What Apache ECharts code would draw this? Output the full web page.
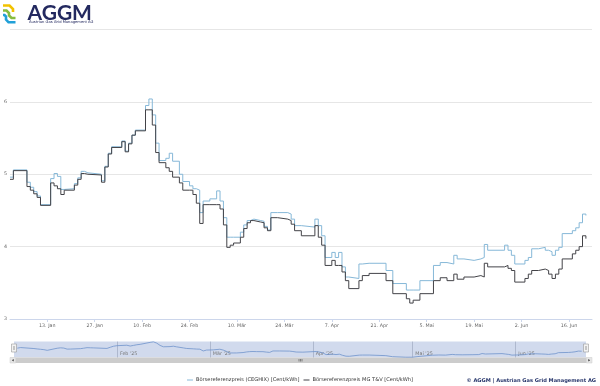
<!DOCTYPE html>
<html><head><meta charset="utf-8">
<script src="https://cdn.jsdelivr.net/npm/echarts@6/dist/echarts.min.js"></script>
<style>html,body{margin:0;padding:0;background:#fff}#c{width:600px;height:386px}</style>
</head><body><div id="c"></div>
<script>
// ---- data ----
const changeDates = ['2025-01-02','2025-01-03','2025-01-07','2025-01-08','2025-01-09','2025-01-10','2025-01-11','2025-01-14','2025-01-15','2025-01-16','2025-01-17','2025-01-18','2025-01-21','2025-01-22','2025-01-23','2025-01-24','2025-01-25','2025-01-29','2025-01-30','2025-01-31',
'2025-02-01','2025-02-04','2025-02-05','2025-02-06','2025-02-07','2025-02-08','2025-02-11','2025-02-12','2025-02-13','2025-02-14','2025-02-15','2025-02-17','2025-02-18','2025-02-19','2025-02-21','2025-02-22','2025-02-24','2025-02-25','2025-02-26','2025-02-27','2025-02-28',
'2025-03-02','2025-03-04','2025-03-05','2025-03-06','2025-03-07','2025-03-08','2025-03-09','2025-03-11','2025-03-12','2025-03-13','2025-03-14','2025-03-15','2025-03-17','2025-03-18','2025-03-19','2025-03-20','2025-03-22','2025-03-25','2025-03-26','2025-03-27','2025-03-29',
'2025-04-02','2025-04-03','2025-04-04','2025-04-05','2025-04-07','2025-04-08','2025-04-09','2025-04-10','2025-04-11','2025-04-12','2025-04-15','2025-04-16','2025-04-18','2025-04-23','2025-04-25','2025-04-29','2025-04-30',
'2025-05-01','2025-05-03','2025-05-07','2025-05-09','2025-05-11','2025-05-13','2025-05-14','2025-05-16','2025-05-19','2025-05-21','2025-05-22','2025-05-23','2025-05-28','2025-05-29','2025-05-30','2025-05-31',
'2025-06-03','2025-06-04','2025-06-05','2025-06-07','2025-06-09','2025-06-10','2025-06-11','2025-06-12','2025-06-13','2025-06-14','2025-06-17','2025-06-18','2025-06-19','2025-06-20','2025-06-21'];
const cegHix = [4.96,5.06,4.89,4.82,4.76,4.70,4.58,4.94,5.01,4.97,4.79,4.80,4.87,4.95,5.04,5.02,5.00,4.91,5.11,5.29,
5.38,5.46,5.32,5.43,5.54,5.61,5.95,6.04,5.82,5.43,5.19,5.22,5.29,5.18,5.00,4.90,4.84,4.80,4.78,4.47,4.63,
4.66,4.77,4.63,4.40,4.13,4.13,4.13,4.20,4.30,4.36,4.38,4.36,4.35,4.28,4.23,4.47,4.47,4.45,4.38,4.29,4.27,
4.38,4.29,4.15,3.85,3.92,3.85,3.92,3.72,3.58,3.56,3.76,3.77,3.77,3.67,3.49,3.40,3.40,
3.40,3.53,3.74,3.78,3.76,3.88,3.83,3.81,3.83,3.85,4.03,3.95,4.02,3.95,3.88,3.76,
3.81,3.85,3.97,3.99,3.95,3.93,3.88,3.95,3.99,4.18,4.22,4.26,4.33,4.45,4.43];
const mgTv = [4.93,5.05,4.83,4.78,4.73,4.68,4.57,4.88,4.84,4.80,4.72,4.78,4.85,4.93,5.01,5.00,4.99,4.89,5.10,5.28,
5.37,5.45,5.31,5.42,5.54,5.60,5.89,5.89,5.68,5.30,5.16,5.09,5.04,4.96,4.88,4.78,4.78,4.72,4.60,4.32,4.58,
4.58,4.58,4.52,4.30,3.99,4.02,4.05,4.13,4.25,4.33,4.36,4.34,4.33,4.26,4.22,4.40,4.38,4.36,4.31,4.22,4.15,
4.29,4.13,4.02,3.74,3.81,3.74,3.74,3.65,3.53,3.42,3.53,3.60,3.63,3.53,3.35,3.28,3.22,
3.26,3.35,3.53,3.57,3.53,3.62,3.55,3.58,3.60,3.58,3.77,3.72,3.74,3.70,3.67,3.51,
3.56,3.62,3.67,3.69,3.67,3.62,3.56,3.62,3.69,3.83,3.90,3.95,4.00,4.15,4.11];
const seriesNames = ['Börsereferenzpreis (CEGHIX) [Cent/kWh]','Börsereferenzpreis MG T&V [Cent/kWh]'];
const xTickDates = ['2025-01-13','2025-01-27','2025-02-10','2025-02-24','2025-03-10','2025-03-24','2025-04-07','2025-04-21','2025-05-05','2025-05-19','2025-06-02','2025-06-16'];
const navMonthDates = ['2025-02-01','2025-03-01','2025-04-01','2025-05-01','2025-06-01'];
const monthNames = ['Jan','Feb','Mär','Apr','Mai','Jun','Jul','Aug','Sep','Okt','Nov','Dez'];
const yMin = 3, yMax = 7, yStep = 1;

// ---- helpers ----
const ts = s => new Date(s + 'T00:00:00').getTime();
const DAY = 86400000;
const blueData = changeDates.map((d, i) => [ts(d), cegHix[i]]);
const darkData = changeDates.map((d, i) => [ts(d), mgTv[i]]);
const FONT = 'DejaVu Sans';

const chart = echarts.init(document.getElementById('c'), null, {renderer: 'canvas'});
chart.setOption({
  animation: false,
  backgroundColor: '#fff',
  grid: [
    {left: 10, right: 8, top: 29.5, height: 289.5},
    {left: 14, right: 14, top: 341.5, height: 16, show: true, backgroundColor: 'rgba(102,133,194,0.3)', borderWidth: 0}
  ],
  legend: {
    left: 'center', top: 372.5, itemWidth: 6, itemHeight: 1, itemGap: 4, icon: 'rect',
    textStyle: {fontFamily: FONT, fontSize: 5.1, color: '#333', padding: [0, 0, 0, -2]},
    data: seriesNames
  },
  xAxis: [
    {
      type: 'value', gridIndex: 0, min: ts('2025-01-02'), max: ts('2025-01-02') + 171.8 * DAY,
      axisLine: {lineStyle: {color: '#ccd6eb'}},
      axisTick: {show: true, length: 3, lineStyle: {color: '#ccd6eb'}, customValues: xTickDates.map(ts)},
      axisLabel: {
        customValues: xTickDates.map(ts), margin: 4, color: '#666', fontFamily: FONT, fontSize: 4.8,
        formatter: v => { const d = new Date(v); return d.getDate() + '. ' + monthNames[d.getMonth()]; }
      },
      splitLine: {show: false}
    },
    {
      type: 'value', gridIndex: 1, min: ts('2025-01-01'), max: ts('2025-01-01') + 172.3 * DAY,
      axisLine: {show: false},
      axisTick: {show: false, customValues: navMonthDates.map(ts)},
      axisLabel: {
        customValues: navMonthDates.map(ts), inside: true, margin: 1.5, align: 'left', padding: [0, 0, 0, 3],
        color: '#777', fontFamily: FONT, fontSize: 4.8,
        formatter: v => { const d = new Date(v); return monthNames[d.getMonth()] + " '" + String(d.getFullYear()).slice(2); }
      },
      splitLine: {show: true, lineStyle: {color: 'rgba(110,120,150,0.35)', width: 1}}
    }
  ],
  yAxis: [
    {
      type: 'value', gridIndex: 0, min: yMin, max: yMax, interval: yStep,
      axisLine: {show: false}, axisTick: {show: false},
      axisLabel: {showMaxLabel: false, margin: 3, color: '#666', fontFamily: FONT, fontSize: 4.8, padding: [0, 0, 4, 0]},
      splitLine: {lineStyle: {color: '#e6e6e6', width: 1}}
    },
    {
      type: 'value', gridIndex: 1, min: 3.35, max: 6.1,
      axisLine: {show: false}, axisTick: {show: false}, axisLabel: {show: false}, splitLine: {show: false}
    }
  ],
  series: [
    {
      name: seriesNames[0], type: 'line', step: 'end', xAxisIndex: 0, yAxisIndex: 0,
      data: blueData, showSymbol: false, color: '#86b8d8', lineStyle: {width: 1}
    },
    {
      name: seriesNames[1], type: 'line', step: 'end', xAxisIndex: 0, yAxisIndex: 0,
      data: darkData, showSymbol: false, color: '#434348', lineStyle: {width: 1}
    },
    {
      name: 'nav', type: 'line', xAxisIndex: 1, yAxisIndex: 1,
      data: blueData, showSymbol: false, color: '#6f93cc', lineStyle: {width: 0.8}, legendHoverLink: false
    }
  ],
  graphic: [
    {type: 'polyline', shape: {points: [[3,5.5],[9.5,5.5],[13,9],[13,12]]}, style: {stroke: '#f2c200', lineWidth: 2.6, fill: null}},
    {type: 'polyline', shape: {points: [[3,10.5],[6.5,10.5],[9,13],[9,15.5],[11.5,18],[15.5,18]]}, style: {stroke: '#86bc3f', lineWidth: 2.6, fill: null}},
    {type: 'polyline', shape: {points: [[3,15],[4.5,15],[6,16.5],[6,19.5],[8.5,22.3],[15.5,22.3]]}, style: {stroke: '#21a0d8', lineWidth: 2.6, fill: null}},
    {type: 'text', left: 27.5, top: 2.5, style: {text: 'AGGM', font: 'bold 21px Lato', fill: '#23295f'}},
    {type: 'text', left: 29, top: 20.5, style: {text: 'Austrian Gas Grid Management AG', font: '3.7px "DejaVu Sans"', fill: '#23295f'}},
    {type: 'rect', shape: {x: 11.5, y: 344, width: 5, height: 8}, style: {fill: '#f2f2f2', stroke: '#999', lineWidth: 0.6}},
    {type: 'line', shape: {x1: 13.5, y1: 346, x2: 13.5, y2: 350}, style: {stroke: '#999', lineWidth: 0.5}},
    {type: 'line', shape: {x1: 14.5, y1: 346, x2: 14.5, y2: 350}, style: {stroke: '#999', lineWidth: 0.5}},
    {type: 'rect', shape: {x: 583.5, y: 344, width: 5, height: 8}, style: {fill: '#f2f2f2', stroke: '#999', lineWidth: 0.6}},
    {type: 'line', shape: {x1: 585.5, y1: 346, x2: 585.5, y2: 350}, style: {stroke: '#999', lineWidth: 0.5}},
    {type: 'line', shape: {x1: 586.5, y1: 346, x2: 586.5, y2: 350}, style: {stroke: '#999', lineWidth: 0.5}},
    {type: 'rect', shape: {x: 10, y: 357.5, width: 582, height: 5.5}, style: {fill: '#f2f2f2'}},
    {type: 'rect', shape: {x: 15.5, y: 357.5, width: 571, height: 5.5}, style: {fill: '#cccccc'}},
    {type: 'rect', shape: {x: 10, y: 357.5, width: 5.5, height: 5.5}, style: {fill: '#e6e6e6', stroke: '#cccccc', lineWidth: 0.5}},
    {type: 'polygon', shape: {points: [[13.7,358.9],[13.7,361.6],[11.9,360.25]]}, style: {fill: '#333'}},
    {type: 'rect', shape: {x: 586.5, y: 357.5, width: 5.5, height: 5.5}, style: {fill: '#e6e6e6', stroke: '#cccccc', lineWidth: 0.5}},
    {type: 'polygon', shape: {points: [[588.3,358.9],[588.3,361.6],[590.1,360.25]]}, style: {fill: '#333'}},
    {type: 'line', shape: {x1: 299, y1: 359, x2: 299, y2: 361.5}, style: {stroke: '#333', lineWidth: 0.5}},
    {type: 'line', shape: {x1: 300.5, y1: 359, x2: 300.5, y2: 361.5}, style: {stroke: '#333', lineWidth: 0.5}},
    {type: 'line', shape: {x1: 302, y1: 359, x2: 302, y2: 361.5}, style: {stroke: '#333', lineWidth: 0.5}},
    {type: 'text', right: 4, top: 378.5, style: {text: '© AGGM | Austrian Gas Grid Management AG', font: 'bold 5.1px "DejaVu Sans"', fill: '#25346a'}}
  ]
});
</script>
</body></html>
